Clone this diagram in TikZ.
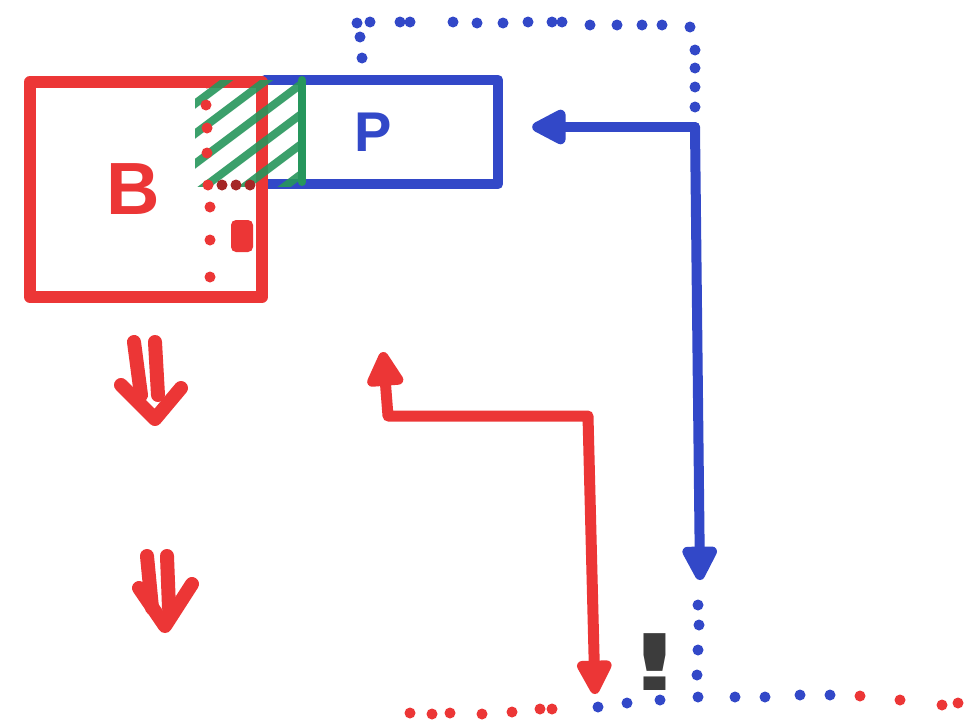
\documentclass[tikz,border=0pt]{standalone}
\usepackage{fontspec}
\setmainfont{Liberation Sans}
\newfontfamily\heavyfont{DejaVu Sans}
\usetikzlibrary{arrows.meta}
\definecolor{penred}{RGB}{236,54,54}
\definecolor{penblue}{RGB}{50,72,200}
\definecolor{pengreen}{RGB}{38,150,92}
\definecolor{penblack}{RGB}{60,60,60}
\tikzset{
  redpen/.style={draw=penred, line width=11pt, line cap=round, line join=round},
  bluepen/.style={draw=penblue, line width=10pt, line cap=round, line join=round},
  greenpen/.style={draw=pengreen, line width=8pt, line cap=round},
  bigtip/.style={-{Triangle[length=40pt, width=38pt, round]}},
  reddot/.style={fill=penred},
  bluedot/.style={fill=penblue},
  boxlabel/.style={font=\fontsize{74}{74}\selectfont\bfseries, inner sep=0pt},
}
\begin{document}
\begin{tikzpicture}[x=1pt, y=-1pt]
\useasboundingbox (0,0) rectangle (970,720);
\fill[white] (0,0) rectangle (970,720);

% P box (no left edge)
\node[boxlabel, text=penblue, font=\fontsize{56}{56}\selectfont\bfseries,
      minimum width=233pt, minimum height=104pt] (P) at (381.5,132) {\kern-17pt P};
\draw[bluepen] (P.north west) -- (P.north east) -- (P.south east) -- (P.south west);

% B box
\node[boxlabel, text=penred, draw=penred, line width=12pt, line join=round,
      minimum width=232pt, minimum height=215pt] (B) at (146,189.5) {\kern-26pt B};

% green hatch
\begin{scope}
  \clip (195,80) rectangle (302,186);
  \foreach \c in {250,280,310,340,370,400} {
    \draw[greenpen, opacity=0.9] (180,\c-135) -- (320,\c-240);
  }
\end{scope}
\draw[greenpen] (302,80) -- (302,182);

% red dotted line inside B
\foreach \x/\y in {207/83,206/105,207/128,207/153,208/185,210/207,210/240,210/277}
  \fill[reddot] (\x,\y) circle (5.5pt);
\foreach \x/\y in {222/185,236/185,250/185}
  \fill[fill=penred!70!black] (\x,\y) circle (5.5pt);
\fill[penred, rounded corners=5pt] (231,220) rectangle (253,252);

% blue dotted frame at top
\foreach \x/\y in {357/23,370/22,400/22,410/22,453/22,477/23,503/23,528/22,552/22,562/22,590/25,617/25,642/25,662/25,690/27,360/37,362/58,695/50,695/68,695/87,695/107}
  \fill[bluedot] (\x,\y) circle (5.5pt);

% blue double arrow
\coordinate (bc) at (695,127);
\coordinate (bt) at (700,580);
\draw[bluepen, bigtip, shorten >=34pt] (bc) -- (P.east |- bc);
\draw[bluepen, bigtip] (bc) -- (bt);

% red double arrow
\coordinate (ru) at (383,352);
\coordinate (rc1) at (388,416);
\coordinate (rc2) at (588,416);
\coordinate (rd) at (595,694);
\draw[redpen, {Triangle[length=40pt, width=40pt, round]}-{Triangle[length=40pt, width=38pt, round]}]
  (ru) -- (rc1) -- (rc2) -- (rd);

% red down double arrows
\draw[redpen, line width=14pt] (134,342) -- (141,395) (155,342) -- (158,395);
\draw[redpen, line width=14pt] (121,385) -- (155,419) -- (181,388);
\draw[redpen, line width=14pt] (147,556) -- (152,608) (167,556) -- (169,608);
\draw[redpen, line width=14pt] (139,588) -- (165,626) -- (192,584);

% exclamation
\node[font=\fontsize{78}{78}\selectfont\heavyfont\bfseries, text=penblack, inner sep=0pt] (ex) at (655,662) {\scalebox{1.6}[1]{!}};

% bottom dots
\foreach \x/\y in {698/605,699/625,698/650,697/675,698/697,735/697,765/697,800/695,830/695,660/700,627/703,598/707}
  \fill[bluedot] (\x,\y) circle (5.5pt);
\foreach \x/\y in {860/696,900/700,942/705,958/703,410/713,432/714,450/713,482/714,512/712,540/709,552/709}
  \fill[reddot] (\x,\y) circle (5.5pt);
\end{tikzpicture}
\end{document}
